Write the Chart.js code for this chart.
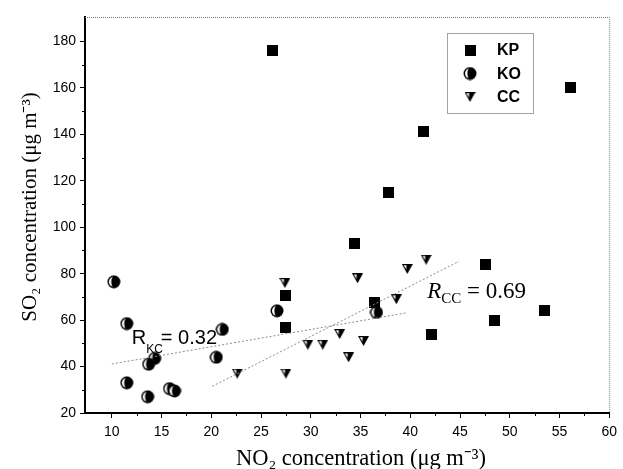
<!DOCTYPE html>
<html><head><meta charset="utf-8">
<script src="https://cdn.jsdelivr.net/npm/chart.js@4"></script>
<style>html,body{margin:0;padding:0;background:#fff}#wrap{width:623px;height:469px;position:relative}canvas{display:block}</style>
</head><body><div id="wrap"><canvas id="c" width="623" height="469" style="width:623px;height:469px"></canvas></div>
<script>
// ---- data ----
const seriesNames = ['KP', 'KO', 'CC'];
const kpNO2 = [26.1, 56.1, 41.3, 37.8, 34.4, 47.6, 27.5, 36.4, 53.5, 48.5, 27.5, 42.1];
const kpSO2 = [176, 160, 141, 115, 93, 84, 70.5, 67.6, 64, 60, 57, 54];
const koNO2 = [10.2, 11.5, 21.1, 26.6, 14.3, 13.7, 20.5, 11.5, 13.6, 15.8, 16.3, 36.6];
const koSO2 = [76.5, 58.5, 56, 64, 43.5, 41, 44, 33, 27, 30.5, 29.5, 63.3];
const ccNO2 = [27.4, 22.6, 27.5, 29.7, 31.2, 32.9, 33.8, 35.3, 34.7, 38.6, 39.7, 41.6];
const ccSO2 = [76, 37, 37, 49.4, 49.4, 54, 44, 51, 78, 69, 82, 86];
const kcFitNO2 = [10, 39.6];
const kcFitSO2 = [41.1, 63.1];
const ccFitNO2 = [20.1, 44.9];
const ccFitSO2 = [31.5, 85.3];
const xTicks = [10, 15, 20, 25, 30, 35, 40, 45, 50, 55, 60];
const xMinor = [12.5, 17.5, 22.5, 27.5, 32.5, 37.5, 42.5, 47.5, 52.5, 57.5];
const yTicks = [20, 40, 60, 80, 100, 120, 140, 160, 180];
const yMinor = [30, 50, 70, 90, 110, 130, 150, 170];
const xTitle = 'NO₂ concentration (μg m⁻³)';
const yTitle = 'SO₂ concentration (μg m⁻³)';
const kcLabel = ['R', 'KC', '= 0.32'];
const ccLabel = ['R', 'CC', ' = 0.69'];

function pts(xs, ys) { return xs.map((x, i) => ({ x: x, y: ys[i] })); }

// ---- marker images ----
function mk(w, h, fn) { const c = document.createElement('canvas'); c.width = w; c.height = h; fn(c.getContext('2d')); return c; }
const sqImg = mk(11, 11, g => { g.fillStyle = '#000'; g.fillRect(0, 0, 11, 11); });
const ciImg = mk(14, 14, g => {
  g.fillStyle = '#000'; g.beginPath(); g.arc(7, 7, 6.5, 0, Math.PI * 2); g.fill();
  g.fillStyle = '#fff'; g.beginPath(); g.arc(7, 7, 5, Math.PI / 2, Math.PI * 1.5); g.fill();
  g.fillStyle = '#000'; g.beginPath(); g.ellipse(7, 7, 2.6, 5.5, 0, 0, Math.PI * 2); g.fill();
});
const trImg = mk(11, 10, g => {
  g.fillStyle = '#000'; g.beginPath(); g.moveTo(0, 0); g.lineTo(11, 0); g.lineTo(5.5, 10); g.closePath(); g.fill();
  g.fillStyle = '#fff'; g.beginPath(); g.moveTo(1.8, 1.2); g.lineTo(4.6, 1.2); g.lineTo(4.4, 5.5); g.closePath(); g.fill();
});
const legendImgs = [sqImg, ciImg, trImg];

const extras = {
  id: 'extras',
  afterDatasetsDraw(chart) {
    const g = chart.ctx, a = chart.chartArea, xs = chart.scales.x, ys = chart.scales.y;
    g.save();
    // dotted top/right frame
    g.strokeStyle = '#777'; g.lineWidth = 1; g.setLineDash([1, 1]);
    g.beginPath(); g.moveTo(a.left, a.top + 0.5); g.lineTo(a.right + 0.5, a.top + 0.5); g.lineTo(a.right + 0.5, a.bottom); g.stroke();
    g.setLineDash([]);
    // minor ticks
    g.strokeStyle = '#000'; g.lineWidth = 1;
    xMinor.forEach(v => { const p = Math.round(xs.getPixelForValue(v)) + 0.5; g.beginPath(); g.moveTo(p, a.bottom); g.lineTo(p, a.bottom + 3); g.stroke(); });
    yMinor.forEach(v => { const p = Math.round(ys.getPixelForValue(v)) + 0.5; g.beginPath(); g.moveTo(a.left, p); g.lineTo(a.left - 3, p); g.stroke(); });
    // legend
    const lx = a.left + 362, ly = a.top + 16;
    g.strokeStyle = '#444'; g.setLineDash([1, 1]);
    g.strokeRect(lx + 0.5, ly + 0.5, 86, 80);
    g.setLineDash([]);
    g.font = 'bold 16px "Liberation Sans", Arial, sans-serif';
    g.fillStyle = '#000'; g.textBaseline = 'middle'; g.textAlign = 'left';
    seriesNames.forEach((n, i) => {
      const cy = ly + 17 + i * 23.5, img = legendImgs[i];
      g.drawImage(img, lx + 23 - img.width / 2, cy - img.height / 2);
      g.fillText(n, lx + 50, cy + 1);
    });
    // R_KC annotation
    g.textBaseline = 'alphabetic';
    let x0 = xs.getPixelForValue(12.0), y0 = ys.getPixelForValue(49.5);
    g.font = '20px "Liberation Sans", Arial, sans-serif';
    g.fillText(kcLabel[0], x0, y0);
    let w = g.measureText(kcLabel[0]).width;
    g.font = '12px "Liberation Sans", Arial, sans-serif';
    g.fillText(kcLabel[1], x0 + w, y0 + 9);
    w += g.measureText(kcLabel[1]).width;
    g.font = '20px "Liberation Sans", Arial, sans-serif';
    g.fillText(kcLabel[2], x0 + w - 2, y0);
    // R_CC annotation
    x0 = xs.getPixelForValue(41.7); y0 = ys.getPixelForValue(69.5);
    g.font = 'italic 23px "Liberation Serif", "Times New Roman", serif';
    g.fillText(ccLabel[0], x0, y0);
    w = g.measureText(ccLabel[0]).width;
    g.font = '15px "Liberation Serif", "Times New Roman", serif';
    g.fillText(ccLabel[1], x0 + w, y0 + 5);
    w += g.measureText(ccLabel[1]).width;
    g.font = '23px "Liberation Serif", "Times New Roman", serif';
    g.fillText(ccLabel[2], x0 + w, y0);
    // axis titles
    g.fillStyle = '#000';
    g.font = '22.5px "Liberation Serif", "Times New Roman", serif';
    g.textAlign = 'center'; g.textBaseline = 'alphabetic';
    g.fillText(xTitle, 361, 465);
    g.save();
    g.translate(30, 207); g.rotate(-Math.PI / 2);
    g.font = '21px "Liberation Serif", "Times New Roman", serif';
    g.textBaseline = 'middle';
    g.fillText(yTitle, 0, 0);
    g.restore();
    g.restore();
  }
};

const tickFont = { family: '"Liberation Sans", Arial, sans-serif', size: 14 };

new Chart(document.getElementById('c'), {
  type: 'scatter',
  data: {
    datasets: [
      { label: 'KC fit', type: 'line', data: pts(kcFitNO2, kcFitSO2), borderColor: '#8a8a8a', borderWidth: 1, borderDash: [2, 2], pointRadius: 0, fill: false, showLine: true },
      { label: 'CC fit', type: 'line', data: pts(ccFitNO2, ccFitSO2), borderColor: '#8a8a8a', borderWidth: 1, borderDash: [2, 2], pointRadius: 0, fill: false, showLine: true },
      { label: seriesNames[0], data: pts(kpNO2, kpSO2), pointStyle: sqImg, pointRadius: 6 },
      { label: seriesNames[1], data: pts(koNO2, koSO2), pointStyle: ciImg, pointRadius: 7 },
      { label: seriesNames[2], data: pts(ccNO2, ccSO2), pointStyle: trImg, pointRadius: 6 }
    ]
  },
  options: {
    responsive: false, maintainAspectRatio: false, animation: false, devicePixelRatio: 1,
    layout: { padding: { top: 17, right: 10, left: 0, bottom: 0 } },
    plugins: { legend: { display: false }, tooltip: { enabled: false } },
    scales: {
      x: {
        type: 'linear', min: 7.3, max: 60,
        afterBuildTicks: s => { s.ticks = xTicks.map(v => ({ value: v })); },
        afterFit: s => { s.height = 56; },
        ticks: { font: tickFont, color: '#000', padding: 6, maxRotation: 0, autoSkip: false },
        grid: { drawOnChartArea: false, tickLength: 5, tickColor: '#000', tickWidth: 1 },
        border: { color: '#000', width: 2 },
        title: { display: false, text: xTitle }
      },
      y: {
        type: 'linear', min: 20, max: 190.5,
        afterBuildTicks: s => { s.ticks = yTicks.map(v => ({ value: v })); },
        afterFit: s => { s.width = 85; },
        ticks: { font: tickFont, color: '#000', padding: 4, autoSkip: false },
        grid: { drawOnChartArea: false, tickLength: 5, tickColor: '#000', tickWidth: 1 },
        border: { color: '#000', width: 2 },
        title: { display: false, text: yTitle }
      }
    }
  },
  plugins: [extras]
});
</script>
</body></html>
